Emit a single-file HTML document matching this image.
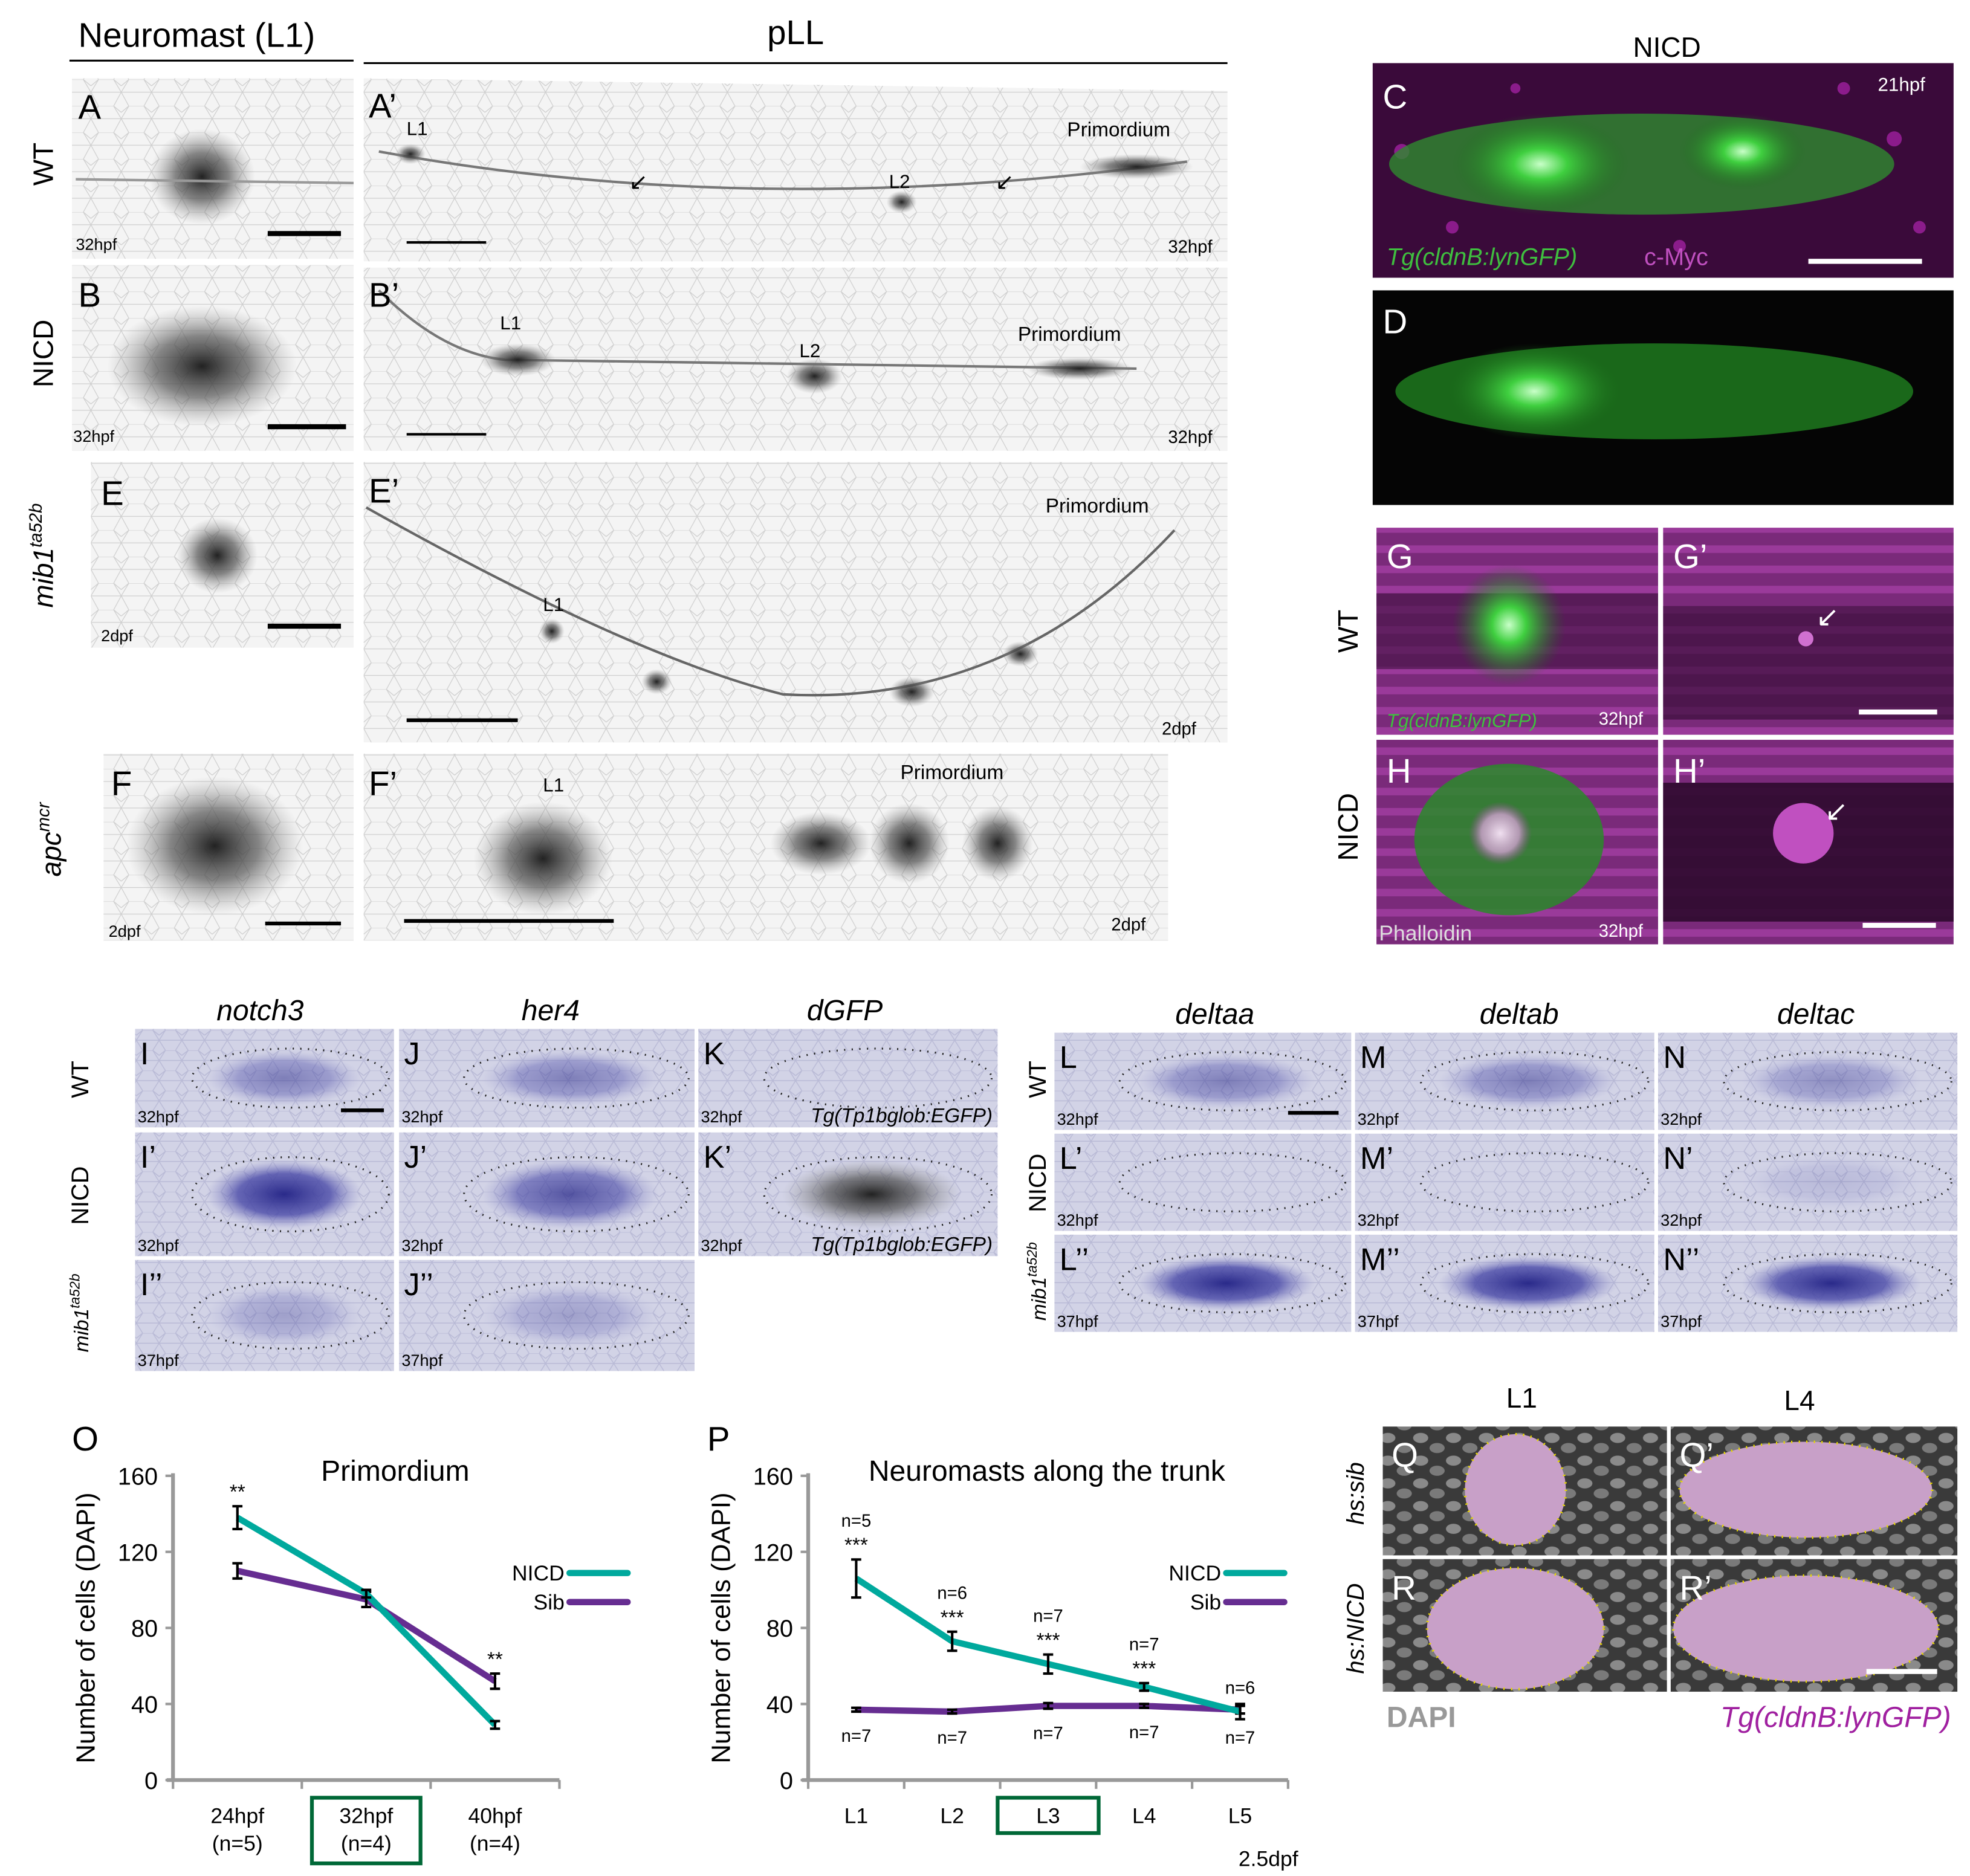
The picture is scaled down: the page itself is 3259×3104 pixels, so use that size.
<!DOCTYPE html>
<html><head><meta charset="utf-8"><style>
html,body{margin:0;padding:0;background:#fff;}
svg{display:block;font-family:"Liberation Sans",Arial,sans-serif;}
</style></head><body>
<svg id="fig" width="3259" height="3104" viewBox="0 0 1560 1486" preserveAspectRatio="none" xmlns="http://www.w3.org/2000/svg">
<defs>
<radialGradient id="gG" cx="50%" cy="50%" r="50%"><stop offset="0" stop-color="#c8ffc8"/><stop offset="0.3" stop-color="#3fcf3f"/><stop offset="1" stop-color="#1a6a1a" stop-opacity="0"/></radialGradient>
<radialGradient id="gK" cx="50%" cy="50%" r="50%"><stop offset="0" stop-color="#222"/><stop offset="0.5" stop-color="#555" stop-opacity="0.7"/><stop offset="1" stop-color="#999" stop-opacity="0"/></radialGradient>
<radialGradient id="gB" cx="50%" cy="50%" r="50%"><stop offset="0" stop-color="#2a2a8a"/><stop offset="0.6" stop-color="#4a4aa8" stop-opacity="0.8"/><stop offset="1" stop-color="#8a8ac8" stop-opacity="0"/></radialGradient>
<radialGradient id="gW" cx="50%" cy="50%" r="50%"><stop offset="0" stop-color="#f0e0f0"/><stop offset="0.6" stop-color="#d0a0d0" stop-opacity="0.8"/><stop offset="1" stop-color="#a040a0" stop-opacity="0"/></radialGradient>
<pattern id="pc" width="24" height="21" patternUnits="userSpaceOnUse"><rect width="24" height="21" fill="#f4f4f4"/><path d="M0 5 L6 0 L18 0 L24 5 M6 0 L0 10 L6 21 M18 0 L24 10 L18 21 M0 10 L24 10" stroke="#cfcfcf" stroke-width="0.6" fill="none"/></pattern>
<pattern id="pi" width="18" height="16" patternUnits="userSpaceOnUse"><rect width="18" height="16" fill="#d2d3e6"/><path d="M0 4 L5 0 L13 0 L18 4 M5 0 L0 8 L5 16 M13 0 L18 8 L13 16 M0 8 L18 8" stroke="#b9bad6" stroke-width="0.7" fill="none"/></pattern>
<pattern id="pn" width="26" height="18" patternUnits="userSpaceOnUse"><rect width="26" height="18" fill="#3a3a3a"/><ellipse cx="7" cy="5" rx="6" ry="4" fill="#8a8a8a"/><ellipse cx="20" cy="13" rx="6" ry="4" fill="#7a7a7a"/></pattern>
<pattern id="pm" width="40" height="16" patternUnits="userSpaceOnUse"><rect width="40" height="16" fill="#7a2a7a"/><rect y="0" width="40" height="6" fill="#9a3a9a"/></pattern>
</defs>

<!-- headers -->
<text x="62" y="37" font-size="27">Neuromast (L1)</text>
<line x1="55" y1="48" x2="280" y2="48" stroke="#000" stroke-width="1.5"/>
<text x="630" y="35" font-size="27" text-anchor="middle">pLL</text>
<line x1="288" y1="50" x2="972" y2="50" stroke="#000" stroke-width="1.5"/>
<text transform="translate(42,130) rotate(-90)" font-size="22" text-anchor="middle">WT</text>
<text transform="translate(42,280) rotate(-90)" font-size="22" text-anchor="middle">NICD</text>
<text transform="translate(42,440) rotate(-90)" font-size="22" font-style="italic" text-anchor="middle">mib1<tspan font-size="14" dy="-9">ta52b</tspan></text>
<text transform="translate(48,665) rotate(-90)" font-size="22" font-style="italic" text-anchor="middle">apc<tspan font-size="14" dy="-9">mcr</tspan></text>

<!-- grayscale panels -->
<g><rect x="57" y="62" width="223" height="143" fill="url(#pc)"/><ellipse cx="160" cy="140" rx="42" ry="38" fill="url(#gK)"/><line x1="60" y1="142" x2="280" y2="145" stroke="#999" stroke-width="2"/><text x="62" y="94" font-size="27">A</text><text x="60" y="198" font-size="13">32hpf</text><rect x="212" y="183" width="58" height="4"/></g>
<g><path d="M288 62 L972 72 L972 207 L288 207Z" fill="url(#pc)"/><path d="M300 120 Q600 175 940 128" stroke="#777" stroke-width="2" fill="none"/><ellipse cx="325" cy="122" rx="12" ry="8" fill="url(#gK)"/><ellipse cx="714" cy="160" rx="12" ry="9" fill="url(#gK)"/><ellipse cx="900" cy="132" rx="45" ry="10" fill="url(#gK)"/><text x="292" y="93" font-size="27">A’</text><text x="322" y="107" font-size="15">L1</text><text x="704" y="149" font-size="15">L2</text><text x="845" y="108" font-size="16">Primordium</text><text x="925" y="200" font-size="14">32hpf</text><rect x="322" y="191" width="63" height="2"/><text x="498" y="150" font-size="18">↙</text><text x="788" y="150" font-size="18">↙</text></g>
<g><rect x="57" y="210" width="223" height="147" fill="url(#pc)"/><ellipse cx="160" cy="290" rx="75" ry="48" fill="url(#gK)"/><text x="62" y="243" font-size="27">B</text><text x="58" y="350" font-size="13">32hpf</text><rect x="212" y="336" width="62" height="4"/></g>
<g><rect x="288" y="212" width="684" height="145" fill="url(#pc)"/><path d="M300 230 Q350 280 400 285 L900 292" stroke="#777" stroke-width="2" fill="none"/><ellipse cx="410" cy="285" rx="30" ry="13" fill="url(#gK)"/><ellipse cx="645" cy="298" rx="22" ry="14" fill="url(#gK)"/><ellipse cx="855" cy="292" rx="42" ry="9" fill="url(#gK)"/><text x="292" y="243" font-size="27">B’</text><text x="396" y="261" font-size="15">L1</text><text x="633" y="283" font-size="15">L2</text><text x="806" y="270" font-size="16">Primordium</text><text x="925" y="351" font-size="14">32hpf</text><rect x="322" y="343" width="63" height="2"/></g>
<g><rect x="72" y="366" width="208" height="147" fill="url(#pc)"/><ellipse cx="172" cy="440" rx="32" ry="30" fill="url(#gK)"/><text x="80" y="400" font-size="27">E</text><text x="80" y="508" font-size="13">2dpf</text><rect x="212" y="494" width="58" height="4"/></g>
<g><rect x="288" y="366" width="684" height="222" fill="url(#pc)"/><path d="M290 402 Q500 520 620 550 Q800 560 930 420" stroke="#666" stroke-width="2" fill="none"/><ellipse cx="437" cy="500" rx="10" ry="10" fill="url(#gK)"/><ellipse cx="520" cy="540" rx="12" ry="10" fill="url(#gK)"/><ellipse cx="722" cy="548" rx="18" ry="12" fill="url(#gK)"/><ellipse cx="808" cy="518" rx="14" ry="10" fill="url(#gK)"/><text x="292" y="398" font-size="27">E’</text><text x="430" y="484" font-size="15">L1</text><text x="828" y="406" font-size="16">Primordium</text><text x="920" y="582" font-size="14">2dpf</text><rect x="322" y="569" width="88" height="3"/></g>
<g><rect x="82" y="597" width="198" height="148" fill="url(#pc)"/><ellipse cx="170" cy="670" rx="70" ry="55" fill="url(#gK)"/><text x="88" y="630" font-size="27">F</text><text x="86" y="742" font-size="13">2dpf</text><rect x="210" y="730" width="60" height="3"/></g>
<g><rect x="288" y="597" width="637" height="148" fill="url(#pc)"/><ellipse cx="430" cy="680" rx="55" ry="45" fill="url(#gK)"/><ellipse cx="650" cy="668" rx="40" ry="25" fill="url(#gK)"/><ellipse cx="720" cy="668" rx="32" ry="32" fill="url(#gK)"/><ellipse cx="790" cy="668" rx="28" ry="30" fill="url(#gK)"/><text x="292" y="630" font-size="27">F’</text><text x="430" y="627" font-size="15">L1</text><text x="713" y="617" font-size="16">Primordium</text><text x="880" y="737" font-size="14">2dpf</text><rect x="320" y="728" width="166" height="3"/></g>

<!-- C, D -->
<text x="1320" y="45" font-size="22" text-anchor="middle">NICD</text>
<g><rect x="1087" y="50" width="460" height="170" fill="#3a0a3a"/><g fill="#a020a0" opacity="0.8"><circle cx="1110" cy="120" r="6"/><circle cx="1150" cy="180" r="5"/><circle cx="1500" cy="110" r="6"/><circle cx="1520" cy="180" r="5"/><circle cx="1460" cy="70" r="5"/><circle cx="1200" cy="70" r="4"/><circle cx="1330" cy="195" r="5"/></g><ellipse cx="1300" cy="130" rx="200" ry="40" fill="#2f8a2f" opacity="0.8"/><ellipse cx="1220" cy="130" rx="70" ry="40" fill="url(#gG)"/><ellipse cx="1380" cy="120" rx="50" ry="30" fill="url(#gG)"/><text x="1095" y="86" font-size="27" fill="#fff">C</text><text x="1487" y="72" font-size="15" fill="#fff">21hpf</text><text x="1098" y="210" font-size="19" font-style="italic" fill="#3fbf3f">Tg(cldnB:lynGFP)</text><text x="1302" y="210" font-size="19" fill="#c050c0">c-Myc</text><rect x="1432" y="205" width="90" height="4" fill="#fff"/></g>
<g><rect x="1087" y="230" width="460" height="170" fill="#050505"/><ellipse cx="1310" cy="310" rx="205" ry="38" fill="#1f7a1f" opacity="0.85"/><ellipse cx="1215" cy="310" rx="70" ry="38" fill="url(#gG)"/><text x="1095" y="264" font-size="27" fill="#fff">D</text></g>

<!-- G, H -->
<text transform="translate(1075,500) rotate(-90)" font-size="22" text-anchor="middle">WT</text>
<text transform="translate(1075,655) rotate(-90)" font-size="22" text-anchor="middle">NICD</text>
<g><rect x="1090" y="418" width="223" height="164" fill="url(#pm)"/><rect x="1090" y="470" width="223" height="60" fill="#4a154a" opacity="0.7"/><ellipse cx="1195" cy="495" rx="45" ry="48" fill="url(#gG)"/><text x="1098" y="450" font-size="27" fill="#fff">G</text><text x="1098" y="576" font-size="15" font-style="italic" fill="#3fbf3f">Tg(cldnB:lynGFP)</text><text x="1266" y="574" font-size="14" fill="#fff">32hpf</text></g>
<g><rect x="1317" y="418" width="230" height="164" fill="url(#pm)"/><rect x="1317" y="480" width="230" height="90" fill="#3a0e3a" opacity="0.7"/><circle cx="1430" cy="506" r="6" fill="#d070d0"/><text x="1325" y="450" font-size="27" fill="#fff">G’</text><text x="1438" y="496" font-size="22" fill="#fff">↙</text><rect x="1472" y="562" width="62" height="4" fill="#fff"/></g>
<g><rect x="1090" y="586" width="223" height="162" fill="url(#pm)"/><ellipse cx="1195" cy="665" rx="75" ry="60" fill="#2a8a2a" opacity="0.85"/><circle cx="1188" cy="660" r="25" fill="url(#gW)"/><text x="1098" y="620" font-size="27" fill="#fff">H</text><text x="1092" y="745" font-size="17" fill="#ddd">Phalloidin</text><text x="1266" y="742" font-size="14" fill="#fff">32hpf</text></g>
<g><rect x="1317" y="586" width="230" height="162" fill="url(#pm)"/><rect x="1317" y="620" width="230" height="110" fill="#2e0a2e" opacity="0.9"/><circle cx="1428" cy="660" r="24" fill="#c050c0"/><text x="1325" y="620" font-size="27" fill="#fff">H’</text><text x="1445" y="650" font-size="22" fill="#fff">↙</text><rect x="1475" y="731" width="58" height="4" fill="#fff"/></g>

<!-- ISH I-K -->
<g font-size="23" font-style="italic" text-anchor="middle"><text x="206" y="808">notch3</text><text x="436" y="808">her4</text><text x="669" y="808">dGFP</text></g>
<g font-size="19" text-anchor="middle">
<text transform="translate(70,855) rotate(-90)">WT</text>
<text transform="translate(70,947) rotate(-90)">NICD</text>
<text transform="translate(70,1040) rotate(-90)" font-style="italic" font-size="16">mib1<tspan font-size="11" dy="-7">ta52b</tspan></text>
<text transform="translate(828,855) rotate(-90)">WT</text>
<text transform="translate(828,937) rotate(-90)">NICD</text>
<text transform="translate(828,1015) rotate(-90)" font-style="italic" font-size="16">mib1<tspan font-size="11" dy="-7">ta52b</tspan></text>
</g>
<g id="ish"></g>

<!-- Q, R -->
<g font-size="22" text-anchor="middle"><text x="1205" y="1115">L1</text><text x="1425" y="1117">L4</text>
<text transform="translate(1080,1183) rotate(-90)" font-style="italic" font-size="19">hs:sib</text>
<text transform="translate(1080,1290) rotate(-90)" font-style="italic" font-size="19">hs:NICD</text></g>
<g><rect x="1095" y="1130" width="225" height="102" fill="url(#pn)"/><ellipse cx="1200" cy="1180" rx="40" ry="44" fill="#c8a0c8"/><ellipse cx="1200" cy="1180" rx="40" ry="44" fill="none" stroke="#e8d800" stroke-width="2" stroke-dasharray="1 5"/><text x="1102" y="1162" font-size="27" fill="#fff">Q</text></g>
<g><rect x="1323" y="1130" width="227" height="102" fill="url(#pn)"/><ellipse cx="1430" cy="1180" rx="100" ry="38" fill="#c8a0c8"/><ellipse cx="1430" cy="1180" rx="100" ry="38" fill="none" stroke="#e8d800" stroke-width="2" stroke-dasharray="1 5"/><text x="1330" y="1162" font-size="27" fill="#fff">Q’</text></g>
<g><rect x="1095" y="1235" width="225" height="105" fill="url(#pn)"/><ellipse cx="1200" cy="1290" rx="70" ry="48" fill="#c8a0c8"/><ellipse cx="1200" cy="1290" rx="70" ry="48" fill="none" stroke="#e8d800" stroke-width="2" stroke-dasharray="1 5"/><text x="1102" y="1267" font-size="27" fill="#fff">R</text></g>
<g><rect x="1323" y="1235" width="227" height="105" fill="url(#pn)"/><ellipse cx="1430" cy="1290" rx="105" ry="42" fill="#c8a0c8"/><ellipse cx="1430" cy="1290" rx="105" ry="42" fill="none" stroke="#e8d800" stroke-width="2" stroke-dasharray="1 5"/><text x="1330" y="1267" font-size="27" fill="#fff">R’</text><rect x="1478" y="1322" width="56" height="4" fill="#fff"/></g>
<text x="1098" y="1368" font-size="23" font-weight="bold" fill="#999">DAPI</text>
<text x="1545" y="1368" font-size="23" font-style="italic" fill="#a020a0" text-anchor="end">Tg(cldnB:lynGFP)</text>

<g id="chartO"></g>
<g id="chartP"></g>
</svg>
<script>
// Chart O data
const oCategories = ["24hpf", "32hpf", "40hpf"];
const oN = ["(n=5)", "(n=4)", "(n=4)"];
const oNicd = [138, 98, 29];
const oNicdErr = [6, 2, 2];
const oSib = [110, 95, 52];
const oSibErr = [4, 4, 4];
const oSig = ["**", "", "**"];
// Chart P data
const pCategories = ["L1", "L2", "L3", "L4", "L5"];
const pNicd = [106, 73, 61, 49, 36];
const pNicdErr = [10, 5, 5, 2, 4];
const pSib = [37, 36, 39, 39, 37];
const pSibErr = [1, 1, 1.5, 1, 2];
const pNicdN = ["n=5", "n=6", "n=7", "n=7", "n=6"];
const pSibN = ["n=7", "n=7", "n=7", "n=7", "n=7"];
const pSig = ["***", "***", "***", "***", ""];
const yTicks = [0, 40, 80, 120, 160];

const NS = "http://www.w3.org/2000/svg";
function mk(parent, tag, attrs, txt) {
  const e = document.createElementNS(NS, tag);
  for (const k in attrs) e.setAttribute(k, attrs[k]);
  if (txt !== undefined) e.textContent = txt;
  parent.appendChild(e);
  return e;
}
const TEAL = "#00a99d", PURP = "#662d91";

function drawChart(g, cfg) {
  const yv = v => cfg.y0 - (v / 160) * (cfg.y0 - cfg.y160);
  const n = cfg.cats.length;
  const step = (cfg.xr - cfg.x0) / n;
  const xv = i => cfg.x0 + step * (i + 0.5);
  let a = mk(g, "line", {x1: cfg.x0, y1: cfg.y160 - 2, x2: cfg.x0, y2: cfg.y0, stroke: "#999", "stroke-width": 3});
  
  
  a = mk(g, "line", {x1: cfg.x0 - 5, y1: cfg.y0, x2: cfg.xr, y2: cfg.y0, stroke: "#999", "stroke-width": 3});
  
  
  for (let i = 0; i <= n; i++) {
    const t = mk(g, "line", {x1: cfg.x0 + step * i, y1: cfg.y0, x2: cfg.x0 + step * i, y2: cfg.y0 + 7, stroke: "#999", "stroke-width": 2});
    
    
  }
  yTicks.forEach(v => {
    const t = mk(g, "line", {x1: cfg.x0 - 6, y1: yv(v), x2: cfg.x0, y2: yv(v), stroke: "#999", "stroke-width": 2});
    
    
    const l = mk(g, "text", {x: cfg.x0 - 12, y: yv(v) + 7, "font-size": 19, "text-anchor": "end"}, String(v));
    
    
  });
  const yt = mk(g, "text", {transform: `translate(${cfg.x0 - 62},${(cfg.y0 + cfg.y160) / 2}) rotate(-90)`, "font-size": 21, "text-anchor": "middle"}, "Number of cells (DAPI)");
  
  
  const tt = mk(g, "text", {x: cfg.titleX, y: cfg.y160 + 4, "font-size": 23, "text-anchor": "middle"}, cfg.title);
  
  
  const pl = mk(g, "text", {x: cfg.x0 - 80, y: cfg.y160 - 20, "font-size": 27}, cfg.letter);
  
  
  cfg.cats.forEach((c, i) => {
    const l = mk(g, "text", {x: xv(i), y: cfg.y0 + 34, "font-size": 17, "text-anchor": "middle"}, c);
    
    
    if (cfg.nlab) {
      const m = mk(g, "text", {x: xv(i), y: cfg.y0 + 56, "font-size": 17, "text-anchor": "middle"}, cfg.nlab[i]);
      
      
    }
  });
  const hb = mk(g, "rect", {x: xv(cfg.hi) - cfg.hw / 2, y: cfg.y0 + 14, width: cfg.hw, height: cfg.hh, fill: "none", stroke: "#006837", "stroke-width": 3});
  
  
  [[cfg.sib, cfg.sibE, PURP, "sib"], [cfg.nicd, cfg.nicdE, TEAL, "nicd"]].forEach(([vals, errs, col, nm]) => {
    const line = mk(g, "polyline", {points: vals.map((v, i) => xv(i) + "," + yv(v)).join(" "), fill: "none", stroke: col, "stroke-width": 5, "stroke-linejoin": "round"});
    
    
    vals.forEach((v, i) => {
      const e = mk(g, "path", {d: `M${xv(i)},${yv(v + errs[i])}V${yv(v - errs[i])}M${xv(i) - 4},${yv(v + errs[i])}h8M${xv(i) - 4},${yv(v - errs[i])}h8`, stroke: "#000", "stroke-width": 2, fill: "none"});
      
      
    });
  });
  cfg.sig.forEach((s, i) => {
    if (!s) return;
    const top = Math.max(cfg.nicd[i] + cfg.nicdE[i], cfg.sib[i] + cfg.sibE[i]);
    const t = mk(g, "text", {x: xv(i), y: yv(top) - 6, "font-size": 16, "text-anchor": "middle"}, s);
    
    
  });
  if (cfg.nN) {
    cfg.nN.forEach((s, i) => {
      const top = cfg.nicd[i] + cfg.nicdE[i];
      const t = mk(g, "text", {x: xv(i), y: yv(top) - (cfg.sig[i] ? 26 : 8), "font-size": 14, "text-anchor": "middle"}, s);
      
      
    });
    cfg.sN.forEach((s, i) => {
      const t = mk(g, "text", {x: xv(i), y: yv(cfg.sib[i] - cfg.sibE[i]) + 24, "font-size": 14, "text-anchor": "middle"}, s);
      
      
    });
  }
  [["NICD", TEAL, 0], ["Sib", PURP, 23]].forEach(([nm, col, dy]) => {
    const t = mk(g, "text", {x: cfg.legX, y: cfg.legY + dy + 6, "font-size": 17, "text-anchor": "end"}, nm);
    
    
    const l = mk(g, "line", {x1: cfg.legX + 4, y1: cfg.legY + dy, x2: cfg.legX + 50, y2: cfg.legY + dy, stroke: col, "stroke-width": 5, "stroke-linecap": "round"});
    
    
  });
  if (cfg.foot) {
    const f = mk(g, "text", {x: cfg.xr + 8, y: cfg.y0 + 68, "font-size": 17, "text-anchor": "end"}, cfg.foot);
    
    
  }
}
drawChart(document.getElementById("chartO"), {x0: 137, xr: 443, y0: 1410, y160: 1169, cats: oCategories, nlab: oN, nicd: oNicd, nicdE: oNicdErr, sib: oSib, sibE: oSibErr, sig: oSig, title: "Primordium", titleX: 313, letter: "O", hi: 1, hw: 86, hh: 52, legX: 447, legY: 1246});
drawChart(document.getElementById("chartP"), {x0: 640, xr: 1020, y0: 1410, y160: 1169, cats: pCategories, nicd: pNicd, nicdE: pNicdErr, sib: pSib, sibE: pSibErr, sig: pSig, nN: pNicdN, sN: pSibN, title: "Neuromasts along the trunk", titleX: 829, letter: "P", hi: 2, hw: 80, hh: 28, legX: 967, legY: 1246, foot: "2.5dpf"});

// ISH panels
const ish = document.getElementById("ish");
const panels = [
  ["I", 107, 815, 205, 78, "32hpf", 1, ""], ["J", 316, 815, 234, 78, "32hpf", 1, ""], ["K", 553, 815, 237, 78, "32hpf", 0, "Tg(Tp1bglob:EGFP)"],
  ["I’", 107, 897, 205, 98, "32hpf", 2, ""], ["J’", 316, 897, 234, 98, "32hpf", 1.5, ""], ["K’", 553, 897, 237, 98, "32hpf", 3, "Tg(Tp1bglob:EGFP)"],
  ["I’’", 107, 998, 205, 88, "37hpf", 0.6, ""], ["J’’", 316, 998, 234, 88, "37hpf", 0.6, ""],
  ["L", 835, 818, 235, 77, "32hpf", 1, ""], ["M", 1073, 818, 237, 77, "32hpf", 1, ""], ["N", 1313, 818, 237, 77, "32hpf", 0.8, ""],
  ["L’", 835, 898, 235, 77, "32hpf", 0, ""], ["M’", 1073, 898, 237, 77, "32hpf", 0, ""], ["N’", 1313, 898, 237, 77, "32hpf", 0.3, ""],
  ["L’’", 835, 978, 235, 77, "37hpf", 2, ""], ["M’’", 1073, 978, 237, 77, "37hpf", 2, ""], ["N’’", 1313, 978, 237, 77, "37hpf", 2, ""]
];
panels.forEach(p => {
  const [lab, x, y, w, h, st, inten, tg] = p;
  const g = mk(ish, "g", {});
  
  
  mk(g, "rect", {x: x, y: y, width: w, height: h, fill: "url(#pi)"});
  const cx = x + w * 0.6, cy = y + h * 0.5;
  mk(g, "ellipse", {cx: cx, cy: cy, rx: w * 0.38, ry: h * 0.3, fill: "none", stroke: "#222", "stroke-width": 1.5, "stroke-dasharray": "1 5"});
  if (inten > 0) {
    mk(g, "ellipse", {cx: cx - 5, cy: cy, rx: w * 0.3, ry: h * 0.28, fill: inten >= 3 ? "url(#gK)" : "url(#gB)", opacity: Math.min(1, inten / 2)});
  }
  mk(g, "text", {x: x + 4, y: y + 28, "font-size": 25}, lab);
  mk(g, "text", {x: x + 2, y: y + h - 4, "font-size": 13}, st);
  if (tg) mk(g, "text", {x: x + w - 4, y: y + h - 4, "font-size": 16, "font-style": "italic", "text-anchor": "end"}, tg);
});
mk(ish, "rect", {x: 270, y: 878, width: 34, height: 3, fill: "#000"});
mk(ish, "rect", {x: 1020, y: 880, width: 40, height: 3, fill: "#000"});
const t2 = ish.parentNode;
["deltaa", "deltab", "deltac"].forEach((s, i) => {
  const t = mk(t2, "text", {x: [962, 1203, 1438][i], y: 811, "font-size": 23, "font-style": "italic", "text-anchor": "middle"}, s);
  
  
});
</script>
</body></html>
